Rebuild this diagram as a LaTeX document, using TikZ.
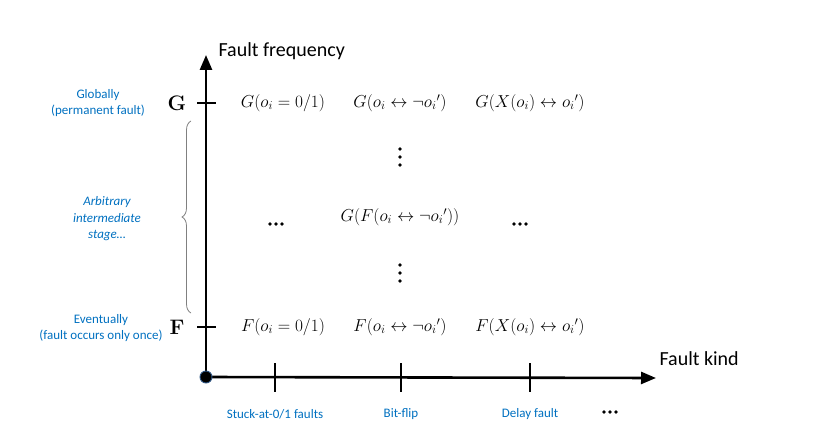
\documentclass[tikz,border=0pt]{standalone}
\usepackage{amsmath}
\usepackage{amssymb}
\usepackage{fontspec}
\setsansfont{Carlito}
\usetikzlibrary{arrows.meta,decorations.pathreplacing}
\definecolor{faultblue}{RGB}{0,112,192}
\definecolor{rimblue}{RGB}{46,84,130}

\begin{document}
\begin{tikzpicture}[x=1pt,y=-1pt,
    axis/.style={line width=2.6pt},
    tick/.style={line width=1.1pt},
    note/.style={font=\sffamily\fontsize{13}{16}\selectfont, text=faultblue, align=center},
    formula/.style={font=\fontsize{16.5}{19}\selectfont},
    title/.style={font=\sffamily\fontsize{20}{22}\selectfont},
    level/.style={font=\bfseries\fontsize{21}{24}\selectfont},
    dot/.style={fill=black, radius=1.8pt}]
    \useasboundingbox (0,0) rectangle (830,433);

    % Axes
    \coordinate (O) at (206,377);
    \coordinate (ytop) at (206,55);
    \coordinate (xend) at (656,378);
    \draw[axis, -{Triangle[length=15pt,width=12pt]}] (O) -- (ytop);
    \draw[axis, -{Triangle[length=15pt,width=12pt]}] (O) -- (xend);
    \node[circle, fill=black, draw=rimblue, line width=0.9pt, minimum size=12pt, inner sep=0pt] (origin) at (O) {};
    \node[title, anchor=west] (freq) at (215,51) {Fault frequency};
    \node[title, anchor=west] (kind) at (656,359) {Fault kind};

    % Frequency levels
    \node[level] (G) at (177,103) {G};
    \node[level] (F) at (177,327) {F};
    \draw[tick] (197,103) -- (216,103);
    \draw[tick] (197,327) -- (216,327);
    \node[note] (glob) at (98,103) {Globally\\(permanent fault)};
    \node[note] (even) at (101,328) {Eventually\\(fault occurs only once)};
    \draw[gray, thick, decorate, decoration={brace, amplitude=9pt}] (191,313) -- (191,121);
    \node[note, font=\sffamily\itshape\fontsize{13}{16.5}\selectfont] (mid) at (107,219) {Arbitrary\\intermediate\\stage\dots};

    % Fault kinds
    \foreach \x in {275,401,530}
        \draw[tick] (\x,363) -- (\x,392);
    \node[note] (stuck) at (275,414) {Stuck-at-0/1 faults};
    \node[note] (flip) at (401,414) {Bit-flip};
    \node[note] (delay) at (530,414) {Delay fault};

    % Formulas
    \node[formula] (g1) at (283,103) {$G(o_i = 0/1)$};
    \node[formula] (g2) at (400,103) {$G(o_i \leftrightarrow \neg {o_i}')$};
    \node[formula] (g3) at (530,103) {$G(X(o_i) \leftrightarrow {o_i}')$};
    \node[formula] (f1) at (283,327) {$F(o_i = 0/1)$};
    \node[formula] (f2) at (400,327) {$F(o_i \leftrightarrow \neg {o_i}')$};
    \node[formula] (f3) at (530,327) {$F(X(o_i) \leftrightarrow {o_i}')$};
    \node[formula] (gf) at (400,217) {$G(F(o_i \leftrightarrow \neg {o_i}'))$};

    % Ellipses
    \coordinate (left) at (276,224);
    \coordinate (right) at (520,224);
    \coordinate (more) at (610,412);
    \coordinate (up) at (400,157);
    \coordinate (down) at (400,273);
    \foreach \c in {left,right,more}
        \foreach \d in {-6,0,6}
            \fill[dot] ([xshift=\d pt]\c) circle;
    \foreach \c in {up,down}
        \foreach \d in {-8,0,8}
            \fill[dot] ([yshift=\d pt]\c) circle;
\end{tikzpicture}
\end{document}
